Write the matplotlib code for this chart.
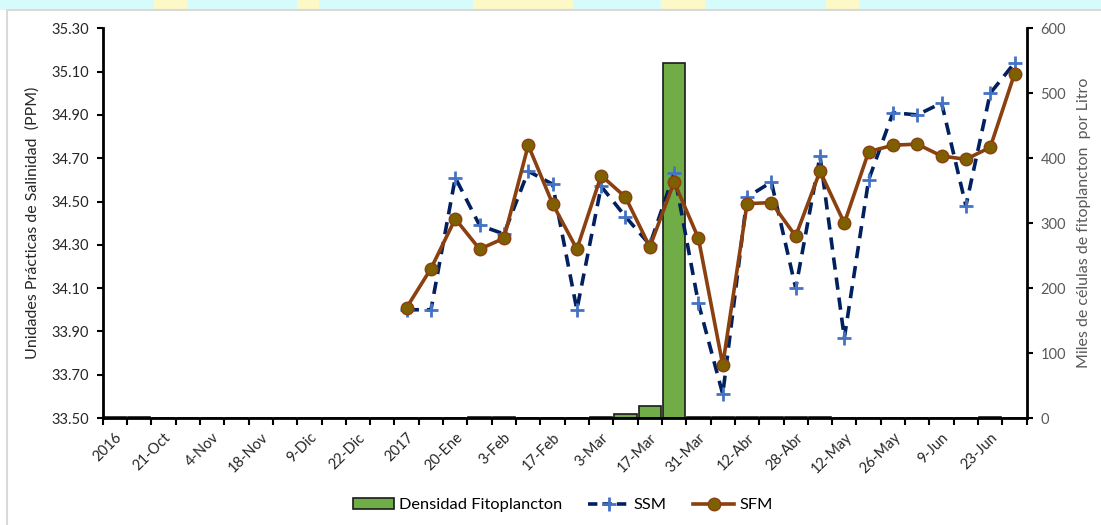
import numpy as np
import matplotlib
matplotlib.use("Agg")
import matplotlib.pyplot as plt
from matplotlib.lines import Line2D
from matplotlib.patches import Patch, Rectangle

plt.rcParams['font.family'] = ['Lato', 'DejaVu Sans']

# ---------------- data ----------------
tick_labels = ['2016', '21-Oct', '4-Nov', '18-Nov', '9-Dic', '22-Dic', '2017',
               '20-Ene', '3-Feb', '17-Feb', '3-Mar', '17-Mar', '31-Mar',
               '12-Abr', '28-Abr', '12-May', '26-May', '9-Jun', '23-Jun']
n_categories = 38

densidad = [2, 2, 0, 0, 0, 0, 0, 0, 0, 0, 0, 0, 0, 0, 0, 2, 2, 0, 0, 0,
            2, 6, 19, 547, 2, 2, 2, 2, 2, 2, 0, 0, 0, 0, 0, 0, 2, 0]

nan = np.nan
ssm = [nan] * 12 + [34.00, 34.00, 34.61, 34.39, 34.35, 34.64, 34.58, 34.00,
                    34.57, 34.43, 34.30, 34.63, 34.03, 33.61, 34.52, 34.59,
                    34.10, 34.71, 33.87, 34.60, 34.91, 34.90, 34.955, 34.48,
                    35.00, 35.14]
sfm = [nan] * 12 + [34.01, 34.19, 34.42, 34.28, 34.33, 34.76, 34.49, 34.28,
                    34.62, 34.52, 34.29, 34.59, 34.33, 33.745, 34.49, 34.495,
                    34.34, 34.64, 34.40, 34.73, 34.76, 34.765, 34.71, 34.695,
                    34.75, 35.09]

# ---------------- figure ----------------
fig = plt.figure(figsize=(11.01, 5.25), dpi=100)
fig.patch.set_facecolor('white')

# top banner (background strip behind chart)
fig.patches.append(Rectangle((0, 1 - 10 / 525), 1, 10 / 525, transform=fig.transFigure,
                             facecolor='#d6fbfb', edgecolor='none', zorder=-3))
for x0, w in [(0.14, 0.03), (0.27, 0.02), (0.43, 0.09), (0.6, 0.04), (0.75, 0.03)]:
    fig.patches.append(Rectangle((x0, 1 - 10 / 525), w, 10 / 525, transform=fig.transFigure,
                                 facecolor='#fdf8c8', edgecolor='none', zorder=-2))
# chart frame
fig.patches.append(Rectangle((7 / 1101, -0.01), 1.1, 1 - 10 / 525 + 0.01,
                             transform=fig.transFigure, facecolor='white',
                             edgecolor='#d9d9d9', linewidth=1.5, zorder=-1))

ax = fig.add_axes([102.7 / 1101, 1 - 418 / 525, (1026.7 - 102.7) / 1101, (418 - 28.3) / 525])
ax2 = ax.twinx()

x = np.arange(n_categories)

# bars on secondary axis
ax2.bar(x, densidad, width=0.92, color='#70ad47', edgecolor='#1a1a1a', linewidth=1.2,
        zorder=2)
ax2.set_ylim(0, 600)
ax2.set_yticks(np.arange(0, 601, 100))
ax2.tick_params(axis='y', labelcolor='#595959', color='black', labelsize=10.5, length=4,
                width=1.5, direction='out', pad=6)
ax2.set_ylabel('Miles de células de fitoplancton  por Litro', fontsize=11.5,
               color='#595959', labelpad=8)

# lines on primary axis, drawn above bars
ax2.set_zorder(1)
ax.set_zorder(2)
ax.patch.set_visible(False)

ax.plot(x, ssm, color='#002060', linewidth=2.6, linestyle=(0, (3.4, 2.2)),
        marker='+', markersize=10, markeredgewidth=2, markeredgecolor='#4472c4',
        zorder=3, label='SSM')
ax.plot(x, sfm, color='#8b4010', linewidth=2.6, linestyle='-',
        marker='o', markersize=9, markerfacecolor='#7f6000', markeredgecolor='#8b4010',
        markeredgewidth=1, zorder=4, label='SFM')

ax.set_xlim(-0.5, n_categories - 0.5)
ax.set_ylim(33.5, 35.3)
yt = np.round(np.arange(33.5, 35.31, 0.2), 2)
ax.set_yticks(yt)
ax.set_yticklabels([f'{v:.2f}' for v in yt])
ax.tick_params(axis='y', labelsize=10.5, labelcolor='#262626', length=4, width=1.5,
               direction='out', pad=6)
ax.set_ylabel('Unidades Prácticas de Salinidad  (PPM)', fontsize=11.5, color='#262626',
              labelpad=8)

# x ticks: boundaries as minor ticks, labels every second category
ax.set_xticks(x[::2][:len(tick_labels)])
ax.set_xticklabels(tick_labels, rotation=45, ha='right', rotation_mode='anchor',
                   fontsize=10.5, color='#262626')
ax.tick_params(axis='x', which='major', length=0, pad=9)
ax.set_xticks(np.arange(-0.5, n_categories, 1.0), minor=True)
ax.tick_params(axis='x', which='minor', length=5, width=1.5, direction='out')
ax2.set_xlim(-0.5, n_categories - 0.5)

for a in (ax, ax2):
    a.spines['top'].set_visible(False)
    for s in ('left', 'right', 'bottom'):
        a.spines[s].set_linewidth(2)
        a.spines[s].set_color('black')
ax.spines['right'].set_visible(False)
ax2.spines['left'].set_visible(False)
ax2.spines['bottom'].set_visible(False)

# legend
handles = [Patch(facecolor='#70ad47', edgecolor='#1a1a1a', linewidth=1.2),
           Line2D([], [], color='#002060', linewidth=2.6, linestyle=(0, (2.6, 1.4)),
                  marker='+', markersize=10, markeredgewidth=2, markeredgecolor='#4472c4'),
           Line2D([], [], color='#8b4010', linewidth=2.6, marker='o', markersize=9,
                  markerfacecolor='#7f6000', markeredgecolor='#8b4010')]
fig.legend(handles, ['Densidad Fitoplancton', 'SSM', 'SFM'], loc='center',
           bbox_to_anchor=(0.511, 1 - 505 / 525), ncol=3, frameon=False,
           fontsize=11.8, handlelength=2.5, columnspacing=1.6, handletextpad=0.3)

fig.savefig('out.png', dpi=100)
